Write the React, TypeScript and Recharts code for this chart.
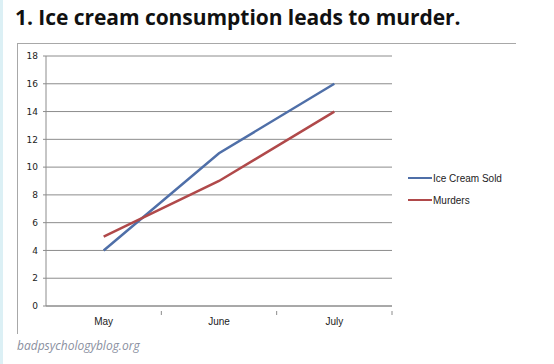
import React from 'react';
import { LineChart, Line, XAxis, YAxis, CartesianGrid, Legend } from 'recharts';

const months = ['May', 'June', 'July'];
const iceCreamSold = [4, 11, 16];
const murders = [5, 9, 14];
const yTicks = [0, 2, 4, 6, 8, 10, 12, 14, 16, 18];

const data = months.map((m, i) => ({
    month: m,
    iceCream: iceCreamSold[i],
    murders: murders[i],
}));

const BLUE = '#4f6fa8';
const RED = '#b0494a';
const GRID = '#8c8c8c';

const XTick = (props: any) => {
    const { x, y, payload } = props;
    const half = payload && payload.offset ? payload.offset : 57.7;
    return (
        <g>
            <line x1={x + half} y1={y - 3} x2={x + half} y2={y + 1} stroke={GRID} />
            <text
                x={x}
                y={y + 11}
                textAnchor="middle"
                fontFamily="'Liberation Sans', Arial, sans-serif"
                fontSize={10}
                fill="#222"
            >
                {payload.value}
            </text>
        </g>
    );
};

const LegendBox = () => {
    const items = [
        { name: 'Ice Cream Sold', color: BLUE },
        { name: 'Murders', color: RED },
    ];
    return (
        <div>
            {items.map((it) => (
                <div
                    key={it.name}
                    style={{ display: 'flex', alignItems: 'center', height: 22 }}
                >
                    <div style={{ width: 24, height: 2.5, background: it.color }} />
                    <span
                        style={{
                            fontFamily: "'Liberation Sans', Arial, sans-serif",
                            fontSize: 10,
                            color: '#222',
                            marginLeft: 1,
                        }}
                    >
                        {it.name}
                    </span>
                </div>
            ))}
        </div>
    );
};

export default function App() {
    return (
        <div
            style={{
                position: 'absolute',
                left: 0,
                top: 0,
                width: 554,
                height: 364,
                background: '#fff',
                overflow: 'hidden',
            }}
        >
            <div
                style={{
                    position: 'absolute',
                    left: 0,
                    top: 0,
                    width: 3,
                    height: 364,
                    background: '#dcf0f5',
                }}
            />
            <div
                style={{
                    position: 'absolute',
                    left: 15,
                    top: 3,
                    fontFamily: "'Open Sans', sans-serif",
                    fontWeight: 700,
                    fontSize: 21,
                    color: '#111',
                    whiteSpace: 'nowrap',
                    letterSpacing: -0.05,
                }}
            >
                1. Ice cream consumption leads to murder.
            </div>
            <div
                style={{
                    position: 'absolute',
                    left: 17,
                    top: 43,
                    width: 498,
                    height: 290,
                    borderTop: '1.5px solid #a8a8a8',
                    borderLeft: '1.5px solid #a8a8a8',
                }}
            />
            <div style={{ position: 'absolute', left: 0, top: 0 }}>
                <LineChart
                    width={554}
                    height={364}
                    data={data}
                    margin={{ top: 56, right: 162, left: 16, bottom: 28 }}
                >
                    <CartesianGrid horizontal vertical={false} stroke={GRID} strokeDasharray="" />
                    <XAxis
                        dataKey="month"
                        scale="band"
                        height={30}
                        axisLine={{ stroke: GRID }}
                        tickLine={false}
                        tick={<XTick />}
                        interval={0}
                    />
                    <YAxis
                        width={30}
                        domain={[0, 18]}
                        ticks={yTicks}
                        interval={0}
                        axisLine={{ stroke: GRID }}
                        tickLine={{ stroke: GRID }}
                        tickSize={3}
                        tickMargin={5}
                        tick={{
                            fontFamily: "'DejaVu Sans', sans-serif",
                            fontSize: 9,
                            fill: '#222',
                        }}
                    />
                    <Legend
                        layout="vertical"
                        align="center"
                        verticalAlign="middle"
                        content={<LegendBox />}
                        wrapperStyle={{ left: 408, top: 167, width: 120 }}
                    />
                    <Line
                        type="linear"
                        dataKey="iceCream"
                        name="Ice Cream Sold"
                        stroke={BLUE}
                        strokeWidth={2.5}
                        dot={false}
                        isAnimationActive={false}
                    />
                    <Line
                        type="linear"
                        dataKey="murders"
                        name="Murders"
                        stroke={RED}
                        strokeWidth={2.5}
                        dot={false}
                        isAnimationActive={false}
                    />
                </LineChart>
            </div>
            <div
                style={{
                    position: 'absolute',
                    left: 17,
                    top: 337,
                    fontFamily: "'Open Sans', sans-serif",
                    fontStyle: 'italic',
                    fontSize: 12,
                    color: '#8a8fa0',
                }}
            >
                badpsychologyblog.org
            </div>
        </div>
    );
}
